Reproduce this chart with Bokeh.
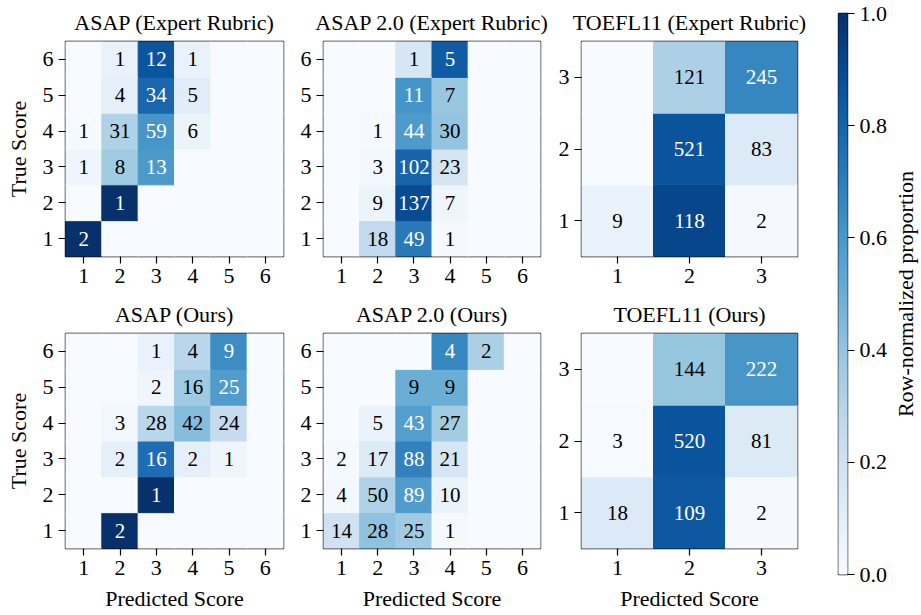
import math
import numpy as np
from bokeh.plotting import figure
from bokeh.layouts import row, column
from bokeh.models import ColumnDataSource, FixedTicker, PrintfTickFormatter, Range1d
from bokeh.palettes import Blues256
from bokeh.transform import linear_cmap
from bokeh.embed import file_html
from bokeh.resources import INLINE
from bokeh.core.properties import value

FONT = "Liberation Serif"

# rows = true score 1..n (bottom to top); columns = predicted score 1..n
asap_expert = [
    [2, 0, 0, 0, 0, 0],
    [0, 1, 0, 0, 0, 0],
    [1, 8, 13, 0, 0, 0],
    [1, 31, 59, 6, 0, 0],
    [0, 4, 34, 5, 0, 0],
    [0, 1, 12, 1, 0, 0],
]
asap2_expert = [
    [0, 18, 49, 1, 0, 0],
    [0, 9, 137, 7, 0, 0],
    [0, 3, 102, 23, 0, 0],
    [0, 1, 44, 30, 0, 0],
    [0, 0, 11, 7, 0, 0],
    [0, 0, 1, 5, 0, 0],
]
toefl_expert = [
    [9, 118, 2],
    [0, 521, 83],
    [0, 121, 245],
]
asap_ours = [
    [0, 2, 0, 0, 0, 0],
    [0, 0, 1, 0, 0, 0],
    [0, 2, 16, 2, 1, 0],
    [0, 3, 28, 42, 24, 0],
    [0, 0, 2, 16, 25, 0],
    [0, 0, 1, 4, 9, 0],
]
asap2_ours = [
    [14, 28, 25, 1, 0, 0],
    [4, 50, 89, 10, 0, 0],
    [2, 17, 88, 21, 0, 0],
    [0, 5, 43, 27, 0, 0],
    [0, 0, 9, 9, 0, 0],
    [0, 0, 0, 4, 2, 0],
]
toefl_ours = [
    [18, 109, 2],
    [3, 520, 81],
    [0, 144, 222],
]

titles_top = ["ASAP (Expert Rubric)", "ASAP 2.0 (Expert Rubric)", "TOEFL11 (Expert Rubric)"]
titles_bottom = ["ASAP (Ours)", "ASAP 2.0 (Ours)", "TOEFL11 (Ours)"]
cb_ticks = [0.0, 0.2, 0.4, 0.6, 0.8, 1.0]
cb_label = "Row-normalized proportion"

PALETTE = list(reversed(Blues256))


def style_axis(ax, ticks, axis_label_standoff=6):
    ax.ticker = FixedTicker(ticks=ticks)
    ax.major_label_text_font = FONT
    ax.major_label_text_font_size = "22px"
    ax.major_label_text_color = "black"
    ax.major_tick_out = 7
    ax.major_tick_in = 0
    ax.major_tick_line_color = "black"
    ax.major_tick_line_width = 1.2
    ax.minor_tick_line_color = None
    ax.axis_line_color = None
    ax.major_label_standoff = 5
    ax.axis_label_text_font = FONT
    ax.axis_label_text_font_size = "22px"
    ax.axis_label_text_font_style = "normal"
    ax.axis_label_text_color = "black"
    ax.axis_label_standoff = axis_label_standoff


def make_panel(title, counts, width, height, bl, br, bt, bb, ylabel=None, xlabel=None):
    n = len(counts)
    xs, ys, vs, labels, tcs = [], [], [], [], []
    for i, r in enumerate(counts):
        s = sum(r)
        for j, c in enumerate(r):
            v = c / s if s else 0.0
            xs.append(j + 1)
            ys.append(i + 1)
            vs.append(v)
            labels.append(str(c) if c else "")
            tcs.append("white" if v > 0.5 else "black")
    src = ColumnDataSource(dict(x=xs, y=ys, v=vs, label=labels, tc=tcs))
    p = figure(width=width, height=height, x_range=Range1d(0.5, n + 0.5),
               y_range=Range1d(0.5, n + 0.5), output_backend="svg",
               toolbar_location=None, title=title,
               min_border_left=bl, min_border_right=br,
               min_border_top=bt, min_border_bottom=bb)
    cmap = linear_cmap("v", PALETTE, 0, 1)
    p.rect(x="x", y="y", width=1, height=1, source=src, fill_color=cmap,
           line_color=cmap, line_width=1)
    p.text(x="x", y="y", text="label", text_color="tc", text_align="center",
           text_baseline="middle", text_font=value(FONT), text_font_size="21px",
           source=src)
    p.grid.visible = False
    p.outline_line_color = "black"
    p.outline_line_width = 1.4
    p.outline_line_alpha = 1.0
    p.background_fill_color = "white"
    p.border_fill_color = "white"
    style_axis(p.xaxis[0], list(range(1, n + 1)), 8)
    style_axis(p.yaxis[0], list(range(1, n + 1)), 9)
    if ylabel:
        p.yaxis.axis_label = ylabel
    if xlabel:
        p.xaxis.axis_label = xlabel
    p.title.align = "center"
    p.title.text_font = FONT
    p.title.text_font_size = "22px"
    p.title.text_font_style = "normal"
    p.title.text_color = "black"
    p.title.standoff = 14
    return p


TOP_H = 292
BOT_H = 321
cols = [(293, 65, 10), (257, 30, 10), (257, 31, 10)]

top_data = [asap_expert, asap2_expert, toefl_expert]
bot_data = [asap_ours, asap2_ours, toefl_ours]

top_figs = []
bot_figs = []
for k in range(3):
    w, bl, br = cols[k]
    top_figs.append(make_panel(titles_top[k], top_data[k], w, TOP_H, bl, br, 39, 36,
                               ylabel="True Score" if k == 0 else None))
    bot_figs.append(make_panel(titles_bottom[k], bot_data[k], w, BOT_H, bl, br, 40, 64,
                               ylabel="True Score" if k == 0 else None,
                               xlabel="Predicted Score"))

# colorbar (gradient of the Blues scale from 0 to 1)
edges = np.linspace(0, 1, len(PALETTE) + 1)
cb_src = ColumnDataSource(dict(bottom=edges[:-1], top=edges[1:], color=PALETTE))
TOTAL_H = TOP_H + BOT_H
cb = figure(width=83, height=TOTAL_H, x_range=Range1d(0, 1), y_range=Range1d(0, 1),
            output_backend="svg", toolbar_location=None,
            x_axis_location=None, y_axis_location="right",
            min_border_left=31, min_border_right=40, min_border_top=13, min_border_bottom=39)
cb.quad(left=0, right=1, bottom="bottom", top="top", fill_color="color",
        line_color="color", line_width=1, source=cb_src)
cb.grid.visible = False
cb.outline_line_color = "black"
cb.outline_line_width = 1.4
cb.border_fill_color = "white"
style_axis(cb.yaxis[0], cb_ticks)
cb.yaxis[0].formatter = PrintfTickFormatter(format="%.1f")

# colorbar label (reads bottom-to-top)
lab = figure(width=30, height=TOTAL_H, x_range=Range1d(0, 1), y_range=Range1d(0, 1),
             output_backend="svg", toolbar_location=None,
             x_axis_location=None, y_axis_location=None,
             min_border_left=0, min_border_right=0, min_border_top=13, min_border_bottom=39)
lab.outline_line_color = None
lab.grid.visible = False
lab.text(x=[0.5], y=[0.5], text=[cb_label], angle=math.pi / 2, text_align="center",
         text_baseline="middle", text_font=value(FONT), text_font_size="22px",
         text_color="black")

layout = row(column(row(*top_figs), row(*bot_figs)), cb, lab)

open("out.html", "w").write(file_html(layout, INLINE))
